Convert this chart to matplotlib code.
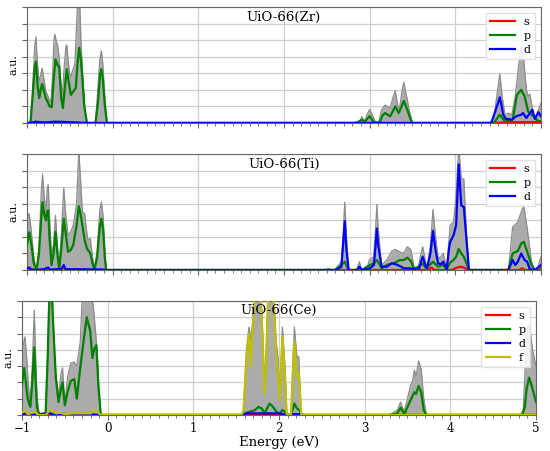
import numpy as np
import matplotlib
matplotlib.use("Agg")
import matplotlib.pyplot as plt
from matplotlib.ticker import MultipleLocator, NullFormatter

plt.rcParams['font.family'] = ['DejaVu Serif']

# ---------------- UiO-66(Zr) ----------------
zr_tot_e = [-1.0, -0.96, -0.935, -0.91, -0.895, -0.88, -0.86, -0.84, -0.822, -0.80, -0.78, -0.76, -0.74, -0.72,
            -0.70, -0.685, -0.674, -0.66, -0.64, -0.625, -0.60, -0.585, -0.565, -0.545, -0.535, -0.52, -0.50,
            -0.488, -0.465, -0.44, -0.42, -0.40, -0.385, -0.37, -0.35, -0.33, -0.30, -0.20, -0.18, -0.15, -0.132,
            -0.115, -0.09, -0.066, 2.80, 2.857, 2.88, 2.91, 2.94, 2.97, 3.0, 3.03, 3.07, 3.11, 3.14, 3.18, 3.21,
            3.24, 3.27, 3.30, 3.33, 3.35, 3.38, 3.40, 3.42, 3.44, 3.47, 3.50, 4.40, 4.45, 4.49, 4.52, 4.55, 4.58,
            4.62, 4.66, 4.70, 4.74, 4.77, 4.80, 4.83, 4.85, 4.87, 4.90, 4.92, 4.95, 4.98, 5.0]
zr_tot = [0, 0, 2.0, 4.6, 5.2, 3.8, 2.5, 2.9, 3.3, 2.6, 1.9, 1.7, 1.4, 1.3,
          3.0, 5.0, 5.35, 5.0, 4.6, 4.0, 2.2, 1.8, 3.4, 4.6, 4.7, 3.8, 2.9,
          2.8, 3.2, 3.6, 6.0, 8.5, 7.5, 5.0, 3.0, 1.2, 0, 0, 1.5, 3.8, 4.35,
          3.6, 1.5, 0, 0, 0.1, 0.05, 0.38, 0.1, 0.5, 0.82, 0.5, 0.05, 0.1, 0.8, 1.08, 1.0,
          0.88, 1.5, 1.95, 1.0, 0.9, 2.0, 2.45, 1.9, 1.4, 0.6, 0, 0, 0.3, 1.8, 2.95, 1.5, 0.5,
          0.6, 0.5, 1.6, 3.5, 4.6, 3.8, 2.0, 1.6, 1.75, 0.9, 0.3, 0.5, 0.9, 1.2]
zr_p_e = [-1.0, -0.96, -0.935, -0.91, -0.895, -0.875, -0.856, -0.84, -0.822, -0.80, -0.78, -0.76, -0.735, -0.71,
          -0.69, -0.667, -0.645, -0.624, -0.60, -0.58, -0.56, -0.535, -0.51, -0.488, -0.46, -0.43, -0.41, -0.39,
          -0.37, -0.355, -0.33, -0.30, -0.20, -0.17, -0.145, -0.132, -0.115, -0.09, -0.066, 2.85, 2.91, 2.94, 3.0,
          3.04, 3.08, 3.12, 3.15, 3.18, 3.24, 3.30, 3.34, 3.40, 3.44, 3.48, 3.50, 4.45, 4.52, 4.58, 4.67, 4.72,
          4.77, 4.81, 4.85, 4.91, 4.96, 5.0]
zr_p = [0, 0, 1.5, 3.3, 3.7, 2.2, 1.5, 2.0, 2.35, 1.9, 1.5, 1.3, 1.0, 0.95,
        2.5, 3.85, 3.5, 3.4, 1.5, 0.9, 2.0, 3.25, 2.4, 1.7, 1.9, 2.1, 3.6, 4.55,
        3.8, 2.8, 1.0, 0, 0, 1.3, 3.0, 3.25, 2.7, 1.0, 0, 0, 0.2, 0.05, 0.42,
        0.1, 0, 0.05, 0.45, 0.6, 0.4, 1.0, 0.6, 1.33, 0.8, 0.2, 0, 0, 0.5, 0.1, 0.2, 1.7,
        2.0, 1.6, 0.7, 0.4, 0.15, 0.1]
zr_d_e = [-1.0, -0.96, -0.9, -0.8, -0.67, -0.55, -0.3, 4.42, 4.48, 4.52, 4.56, 4.59, 4.66, 4.71, 4.77, 4.79,
          4.83, 4.90, 4.93, 4.97, 5.0]
zr_d = [0, 0, 0.08, 0.03, 0.08, 0.06, 0, 0, 0.9, 1.55, 0.5, 0.25, 0.2, 0.4, 0.5, 0.6,
        0.3, 0.8, 0.25, 0.65, 0.4]
zr_s_e = [-1.0, 4.45, 4.6, 4.8, 5.0]
zr_s = [0, 0, 0.05, 0.05, 0.05]

# ---------------- UiO-66(Ti) ----------------
ti_tot_e = [-1.0, -0.985, -0.973, -0.955, -0.92, -0.895, -0.887, -0.86, -0.835, -0.818, -0.80, -0.779, -0.765,
            -0.752, -0.735, -0.713, -0.69, -0.667, -0.645, -0.624, -0.60, -0.57, -0.55, -0.52, -0.49, -0.46,
            -0.42, -0.40, -0.395, -0.375, -0.353, -0.326, -0.30, -0.287, -0.26, -0.235, -0.21, -0.18, -0.15,
            -0.131, -0.11, -0.09, -0.075, 2.45, 2.50, 2.523, 2.55, 2.60, 2.64, 2.67, 2.69, 2.71, 2.73, 2.756,
            2.85, 2.88, 2.91, 2.97, 2.996, 3.047, 3.07, 3.085, 3.10, 3.14, 3.20, 3.26, 3.30, 3.35, 3.395, 3.44,
            3.48, 3.52, 3.57, 3.60, 3.62, 3.65, 3.67, 3.71, 3.74, 3.77, 3.80, 3.83, 3.86, 3.90, 3.93, 3.94, 3.98,
            4.01, 4.04, 4.07, 4.10, 4.13, 4.16, 4.62, 4.67, 4.73, 4.77, 4.80, 4.84, 4.89, 4.93, 4.96, 5.0]
ti_tot = [2.6, 3.3, 3.4, 2.6, 0.8, 0.05, 0, 1.2, 4.5, 5.8, 4.5, 3.5, 4.8,
          5.15, 3.0, 0.9, 1.5, 3.3, 1.5, 0.3, 2.0, 4.95, 3.5, 2.1, 2.3, 2.7,
          4.0, 6.5, 7.2, 5.5, 3.5, 3.4, 2.2, 1.8, 1.9, 0.8, 0.1, 1.2, 3.6,
          4.1, 3.2, 1.0, 0, 0, 0.05, 0.1, 0, 0.05, 0.3, 0.5, 2.0, 4.1, 2.0, 0,
          0, 0.5, 0, 0.1, 0.6, 0.8, 2.5, 3.95, 2.5, 0.3, 0.6, 1.15, 1.25, 1.1, 1.0, 1.4,
          1.25, 0.15, 0.2, 1.0, 1.4, 0.6, 0.1, 1.5, 3.65, 2.0, 0.7, 0.8, 1.0, 0.1, 2.0, 2.7, 2.9,
          4.5, 7.5, 5.5, 5.5, 2.2, 0, 0, 2.6, 2.9, 3.5, 3.9, 2.5, 0.5, 0, 0.1, 0.8]
ti_p_e = [-1.0, -0.973, -0.95, -0.92, -0.887, -0.86, -0.835, -0.818, -0.80, -0.779, -0.765, -0.752, -0.735,
          -0.713, -0.69, -0.667, -0.645, -0.624, -0.60, -0.57, -0.55, -0.52, -0.49, -0.46, -0.42, -0.395,
          -0.375, -0.353, -0.326, -0.30, -0.287, -0.26, -0.235, -0.21, -0.18, -0.15, -0.131, -0.11, -0.09,
          -0.075, 2.60, 2.67, 2.71, 2.756, 2.85, 2.88, 2.91, 3.0, 3.05, 3.085, 3.12, 3.14, 3.20, 3.26, 3.30,
          3.35, 3.40, 3.44, 3.48, 3.52, 3.60, 3.62, 3.65, 3.70, 3.74, 3.77, 3.80, 3.86, 3.90, 3.94, 3.98, 4.01,
          4.04, 4.07, 4.10, 4.13, 4.16, 4.62, 4.67, 4.73, 4.77, 4.80, 4.84, 4.89, 4.93, 5.0]
ti_p = [1.5, 2.27, 1.6, 0.4, 0, 1.0, 3.0, 4.1, 3.4, 3.0, 3.5, 3.6, 1.8,
        0.3, 1.0, 2.3, 1.0, 0.1, 1.2, 3.1, 2.3, 1.1, 1.2, 1.5, 2.7, 3.85,
        3.4, 2.7, 1.8, 1.3, 1.2, 1.0, 0.4, 0.05, 0.8, 2.6, 3.1, 2.4, 0.7,
        0, 0, 0.3, 0.5, 0, 0, 0.15, 0, 0.3, 0.4, 0.6, 0.3, 0.1, 0.3, 0.4, 0.45,
        0.6, 0.6, 0.75, 0.55, 0.05, 0.3, 0.4, 0.15, 0.3, 0.5, 0.35, 0.2, 0.3, 0.05, 0.45, 0.6, 0.8,
        1.27, 1.0, 0.8, 0.4, 0, 0, 1.0, 1.15, 1.6, 1.7, 1.1, 0.3, 0, 0.2]
ti_d_e = [-1.0, -0.973, -0.95, -0.9, -0.80, -0.752, -0.73, -0.66, -0.60, -0.57, -0.55, -0.40, -0.13, -0.07,
          2.60, 2.67, 2.69, 2.71, 2.73, 2.756, 2.85, 2.88, 2.91, 3.0, 3.05, 3.07, 3.085, 3.10, 3.14, 3.20, 3.26,
          3.30, 3.35, 3.40, 3.48, 3.52, 3.58, 3.60, 3.62, 3.65, 3.67, 3.71, 3.74, 3.77, 3.80, 3.83, 3.86, 3.90,
          3.93, 3.94, 3.98, 4.01, 4.04, 4.07, 4.10, 4.13, 4.16, 4.62, 4.67, 4.70, 4.73, 4.77, 4.81, 4.84, 4.87,
          4.93, 5.0]
ti_d = [0.1, 0.15, 0.05, 0, 0.05, 0.15, 0.02, 0.05, 0.05, 0.3, 0.05, 0.05, 0.03, 0,
        0, 0.2, 1.5, 2.95, 1.2, 0, 0, 0.2, 0, 0.1, 0.3, 1.5, 2.5, 1.5, 0.2, 0.2, 0.4,
        0.35, 0.25, 0.1, 0.1, 0.05, 0.1, 0.5, 0.8, 0.3, 0.1, 1.0, 2.35, 1.2, 0.4, 0.35, 0.5, 0.05,
        1.4, 1.7, 2.1, 2.7, 6.37, 3.9, 3.8, 1.9, 0, 0, 0.6, 0.3, 0.5, 1.0, 0.6, 0.5, 0.05,
        0, 0.3]
ti_s_e = [-1.0, -0.60, -0.57, -0.54, 3.68, 3.72, 3.76, 3.96, 4.0, 4.05, 4.10, 4.15, 4.74, 4.78, 4.82, 5.0]
ti_s = [0, 0, 0.2, 0, 0, 0.15, 0, 0, 0.1, 0.2, 0.15, 0, 0, 0.1, 0, 0]

# ---------------- UiO-66(Ce) ----------------
ce_tot_e = [-1.0, -0.965, -0.945, -0.934, -0.915, -0.903, -0.88, -0.857, -0.84, -0.826, -0.80, -0.725, -0.70,
            -0.68, -0.663, -0.645, -0.625, -0.605, -0.574, -0.545, -0.527, -0.50, -0.469, -0.43, -0.39, -0.36,
            -0.32, -0.294, -0.25, -0.20, -0.166, -0.14, -0.12, -0.10, -0.08, 1.56, 1.585, 1.62, 1.65, 1.67, 1.69,
            1.71, 1.74, 1.78, 1.81, 1.83, 1.85, 1.87, 1.89, 1.93, 1.965, 1.99, 2.01, 2.04, 2.07, 2.09, 2.10, 2.14,
            2.16, 2.18, 2.21, 2.23, 2.26, 3.27, 3.32, 3.38, 3.42, 3.445, 3.465, 3.50, 3.535, 3.56, 3.58, 3.60,
            3.63, 3.66, 3.69, 3.72, 4.82, 4.85, 4.88, 4.91, 4.93, 4.96, 5.0]
ce_tot = [4.0, 4.8, 3.5, 2.55, 1.2, 0.7, 3.0, 6.44, 3.5, 1.2, 0, 0, 4.0,
          7.5, 9.0, 7.5, 4.0, 2.4, 1.2, 2.5, 2.9, 0.7, 2.3, 3.2, 3.25, 3.0,
          4.5, 7.5, 8.5, 7.8, 6.6, 5.0, 3.6, 1.0, 0, 0, 0.3, 4.0, 5.4, 4.7, 5.5,
          7.5, 9.0, 8.5, 5.0, 1.8, 4.0, 7.5, 9.0, 8.5, 4.6, 3.4, 1.3, 5.4, 3.0, 0.1, 0, 0,
          3.0, 5.4, 3.5, 3.6, 0, 0, 0.1, 0.3, 0.8, 0.4, 0.3, 1.0, 1.8, 2.1, 2.76, 2.4,
          3.33, 2.8, 1.0, 0, 0, 0.3, 3.5, 5.5, 5.3, 4.0, 3.0]
ce_p_e = [-1.0, -0.975, -0.955, -0.934, -0.903, -0.88, -0.857, -0.84, -0.826, -0.80, -0.725, -0.70, -0.68,
          -0.663, -0.636, -0.605, -0.574, -0.545, -0.527, -0.50, -0.469, -0.43, -0.39, -0.36, -0.32, -0.275,
          -0.244, -0.205, -0.178, -0.159, -0.132, -0.108, -0.08, 1.56, 1.60, 1.66, 1.72, 1.76, 1.80, 1.83, 1.89,
          1.93, 1.97, 2.01, 2.04, 2.07, 2.10, 2.14, 2.18, 2.21, 2.24, 2.26, 3.30, 3.38, 3.42, 3.465, 3.50, 3.535,
          3.58, 3.60, 3.63, 3.66, 3.69, 3.72, 4.84, 4.87, 4.89, 4.92, 4.95, 5.0]
ce_p = [1.9, 2.9, 2.0, 1.0, 0.5, 2.0, 4.15, 2.0, 0.5, 0, 0, 3.5, 7.5,
        8.5, 5.6, 2.3, 0.8, 1.6, 2.0, 0.6, 1.4, 2.1, 2.2, 1.0, 2.9, 4.8,
        6.0, 5.2, 3.5, 4.0, 4.3, 1.8, 0, 0, 0.1, 0.2, 0.3, 0.5, 0.4, 0.1, 0.7,
        0.5, 0.2, 0.1, 0.3, 0.2, 0, 0, 0.7, 0.4, 0.3, 0, 0, 0.1, 0.45, 0.05, 0.5, 0.9,
        1.4, 1.3, 1.78, 1.4, 0.3, 0, 0, 0.5, 1.6, 2.3, 1.8, 0.8]
ce_f_e = [-1.0, -0.965, -0.93, -0.857, -0.80, -0.725, -0.663, -0.60, -0.55, -0.50, -0.40, -0.30, -0.20, -0.14,
          -0.08, 1.56, 1.585, 1.62, 1.65, 1.67, 1.69, 1.71, 1.74, 1.78, 1.81, 1.83, 1.85, 1.87, 1.89, 1.93,
          1.965, 1.99, 2.01, 2.04, 2.07, 2.09, 2.14, 2.16, 2.18, 2.21, 2.23, 2.26, 5.0]
ce_f = [0.15, 0.25, 0.05, 0.2, 0, 0, 0.35, 0.1, 0.15, 0.05, 0.1, 0.1, 0.1, 0.3,
        0, 0, 0.2, 3.5, 5.0, 3.0, 5.0, 7.0, 8.5, 8.0, 4.5, 1.3, 3.2, 6.5, 8.5, 8.0,
        4.0, 2.4, 0.9, 4.8, 2.3, 0.05, 0, 2.2, 4.5, 2.35, 2.6, 0, 0]
ce_d_e = [-1.0, -0.965, -0.93, -0.68, -0.62, -0.2, -0.1, 1.56, 1.62, 1.80, 2.0, 2.10, 2.15, 2.25, 2.3, 5.0]
ce_d = [0.05, 0.12, 0, 0.12, 0, 0.05, 0, 0, 0.1, 0.1, 0.1, 0, 0.05, 0.05, 0, 0]
ce_s_e = [-1.0, 5.0]
ce_s = [0, 0]

panels = [
    ("UiO-66(Zr)", zr_tot_e, zr_tot, [("s", zr_s_e, zr_s), ("p", zr_p_e, zr_p), ("d", zr_d_e, zr_d)]),
    ("UiO-66(Ti)", ti_tot_e, ti_tot, [("s", ti_s_e, ti_s), ("p", ti_p_e, ti_p), ("d", ti_d_e, ti_d)]),
    ("UiO-66(Ce)", ce_tot_e, ce_tot, [("s", ce_s_e, ce_s), ("p", ce_p_e, ce_p), ("d", ce_d_e, ce_d),
                                      ("f", ce_f_e, ce_f)]),
]
colors = {"s": "r", "p": "g", "d": "b", "f": "y"}

fig = plt.figure(figsize=(5.5, 4.51), dpi=100)
rects = [[0.049, 0.7273, 0.9345, 0.2572],
         [0.049, 0.4013, 0.9345, 0.2572],
         [0.040, 0.0798, 0.9345, 0.2528]]

for i, (title, te, tv, parts) in enumerate(panels):
    ax = fig.add_axes(rects[i])
    ax.fill_between(te, tv, 0, color='#ababab', lw=0, zorder=1)
    ax.plot(te, tv, color='#8c8c8c', lw=0.9, zorder=2)
    for lab, e, v in parts:
        ax.plot(e, v, color=colors[lab], lw=1.6, label=lab, zorder=3)
    ax.set_xlim(-1, 5)
    ax.set_ylim(0, 7)
    ax.xaxis.set_major_locator(MultipleLocator(1))
    ax.xaxis.set_minor_locator(MultipleLocator(0.1))
    ax.yaxis.set_major_locator(MultipleLocator(1))
    ax.yaxis.set_major_formatter(NullFormatter())
    ax.grid(True, which='major', color='#cfcfcf', lw=0.9, zorder=0)
    ax.set_axisbelow(True)
    ax.tick_params(which='major', length=3.5, color='0.4', labelsize=8.5, pad=1.5)
    ax.tick_params(which='minor', length=2, color='0.4')
    for sp in ax.spines.values():
        sp.set_color('0.4')
    if i < 2:
        ax.xaxis.set_major_formatter(NullFormatter())
    else:
        ax.set_xlabel("Energy (eV)", fontsize=9.5, labelpad=1)
    ax.set_ylabel("a.u.", fontsize=8, labelpad=1)
    ax.text(0.5, 0.97, title, transform=ax.transAxes, ha='center', va='top', fontsize=9.5, zorder=5)
    ax.legend(loc='upper right', fontsize=8, handlelength=2.2, borderpad=0.4, labelspacing=0.35,
              framealpha=0.85, fancybox=False, edgecolor='#dddddd')

fig.savefig("out.png", dpi=100)
